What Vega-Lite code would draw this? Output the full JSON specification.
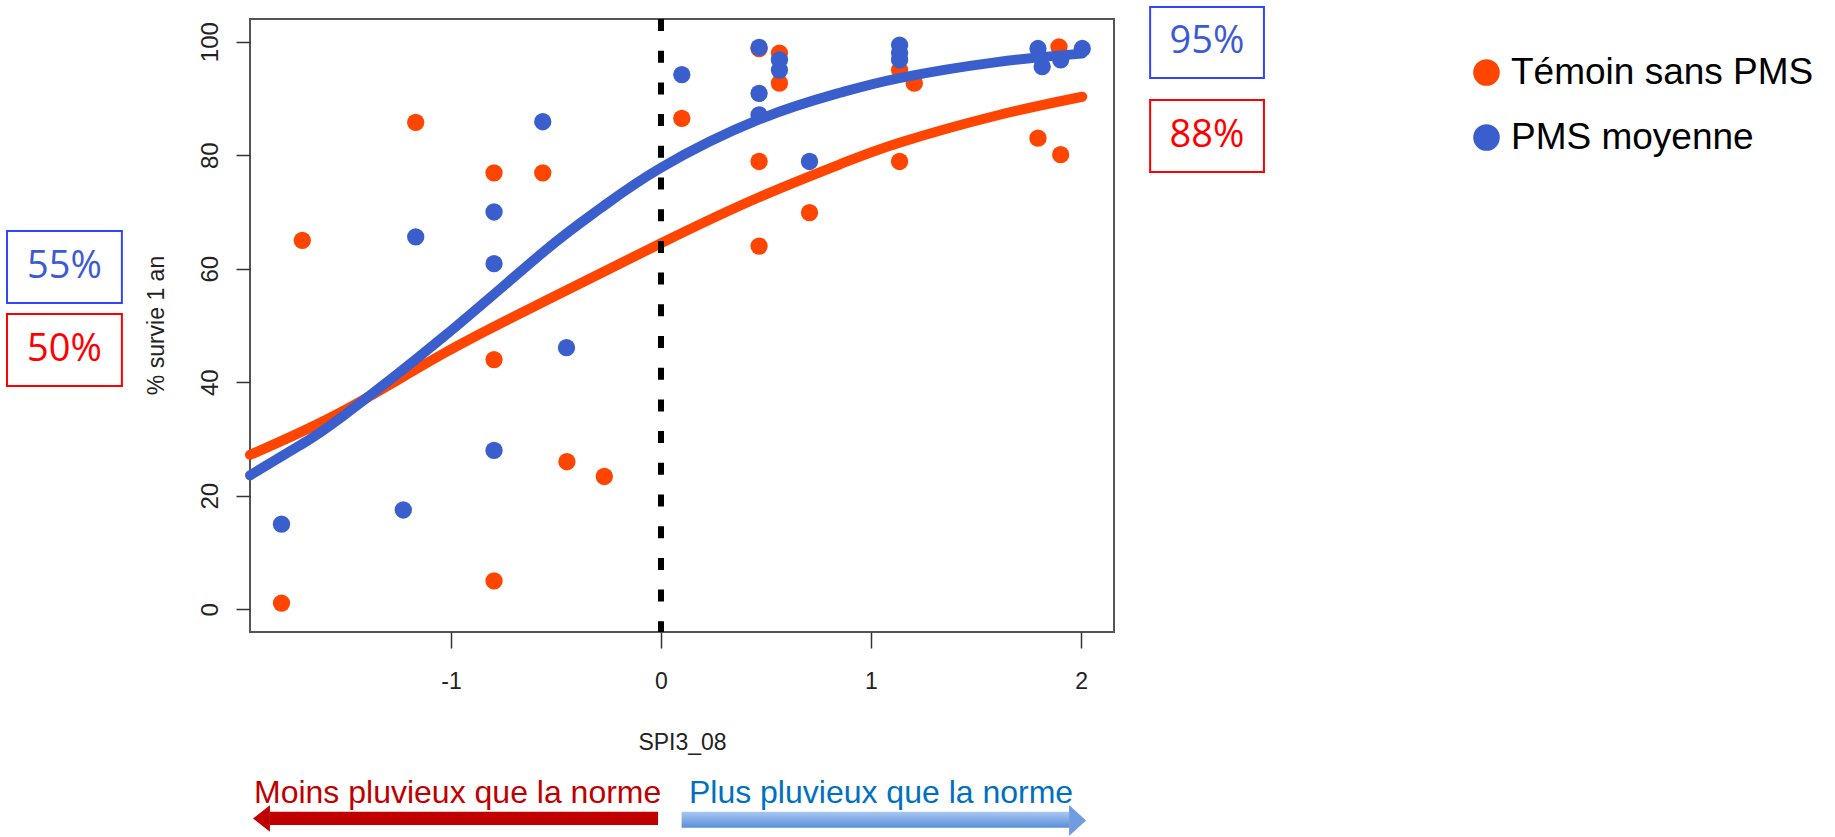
{
  "$schema": "https://vega.github.io/schema/vega-lite/v6.json",
  "width": 864,
  "height": 613,
  "autosize": {"type": "none"},
  "padding": {"left": 250, "top": 19, "right": 721, "bottom": 205},
  "background": "white",
  "config": {
    "view": {"stroke": "#555", "strokeWidth": 2},
    "font": "Liberation Sans"
  },
  "datasets": {
    "points": [
      {"spi": -1.807, "survie": 1.1, "groupe": "Témoin sans PMS"},
      {"spi": -1.708, "survie": 65.0, "groupe": "Témoin sans PMS"},
      {"spi": -1.168, "survie": 85.8, "groupe": "Témoin sans PMS"},
      {"spi": -0.795, "survie": 76.9, "groupe": "Témoin sans PMS"},
      {"spi": -0.795, "survie": 44.0, "groupe": "Témoin sans PMS"},
      {"spi": -0.795, "survie": 5.0, "groupe": "Témoin sans PMS"},
      {"spi": -0.563, "survie": 76.9, "groupe": "Témoin sans PMS"},
      {"spi": -0.448, "survie": 26.0, "groupe": "Témoin sans PMS"},
      {"spi": -0.27, "survie": 23.4, "groupe": "Témoin sans PMS"},
      {"spi": 0.099, "survie": 86.5, "groupe": "Témoin sans PMS"},
      {"spi": 0.467, "survie": 98.8, "groupe": "Témoin sans PMS"},
      {"spi": 0.467, "survie": 78.9, "groupe": "Témoin sans PMS"},
      {"spi": 0.467, "survie": 64.0, "groupe": "Témoin sans PMS"},
      {"spi": 0.564, "survie": 98.0, "groupe": "Témoin sans PMS"},
      {"spi": 0.564, "survie": 92.7, "groupe": "Témoin sans PMS"},
      {"spi": 0.707, "survie": 69.9, "groupe": "Témoin sans PMS"},
      {"spi": 1.136, "survie": 95.0, "groupe": "Témoin sans PMS"},
      {"spi": 1.206, "survie": 92.7, "groupe": "Témoin sans PMS"},
      {"spi": 1.136, "survie": 78.9, "groupe": "Témoin sans PMS"},
      {"spi": 1.795, "survie": 83.0, "groupe": "Témoin sans PMS"},
      {"spi": 1.903, "survie": 80.1, "groupe": "Témoin sans PMS"},
      {"spi": 1.895, "survie": 99.1, "groupe": "Témoin sans PMS"},
      {"spi": -1.807, "survie": 15.0, "groupe": "PMS moyenne"},
      {"spi": -1.227, "survie": 17.5, "groupe": "PMS moyenne"},
      {"spi": -1.168, "survie": 65.6, "groupe": "PMS moyenne"},
      {"spi": -0.795, "survie": 70.0, "groupe": "PMS moyenne"},
      {"spi": -0.795, "survie": 60.9, "groupe": "PMS moyenne"},
      {"spi": -0.795, "survie": 28.0, "groupe": "PMS moyenne"},
      {"spi": -0.563, "survie": 85.9, "groupe": "PMS moyenne"},
      {"spi": -0.45, "survie": 46.1, "groupe": "PMS moyenne"},
      {"spi": 0.099, "survie": 94.2, "groupe": "PMS moyenne"},
      {"spi": 0.467, "survie": 99.0, "groupe": "PMS moyenne"},
      {"spi": 0.467, "survie": 90.9, "groupe": "PMS moyenne"},
      {"spi": 0.467, "survie": 87.1, "groupe": "PMS moyenne"},
      {"spi": 0.564, "survie": 96.8, "groupe": "PMS moyenne"},
      {"spi": 0.564, "survie": 95.0, "groupe": "PMS moyenne"},
      {"spi": 0.707, "survie": 78.9, "groupe": "PMS moyenne"},
      {"spi": 1.136, "survie": 99.4, "groupe": "PMS moyenne"},
      {"spi": 1.136, "survie": 98.0, "groupe": "PMS moyenne"},
      {"spi": 1.136, "survie": 96.8, "groupe": "PMS moyenne"},
      {"spi": 1.795, "survie": 98.8, "groupe": "PMS moyenne"},
      {"spi": 1.815, "survie": 95.6, "groupe": "PMS moyenne"},
      {"spi": 1.903, "survie": 96.8, "groupe": "PMS moyenne"},
      {"spi": 2.006, "survie": 98.8, "groupe": "PMS moyenne"}
    ],
    "curves": [
      {"spi": -1.957, "survie": 27.2, "groupe": "Témoin sans PMS"},
      {"spi": -1.52, "survie": 34.8, "groupe": "Témoin sans PMS"},
      {"spi": -1.029, "survie": 45.2, "groupe": "Témoin sans PMS"},
      {"spi": -0.552, "survie": 54.3, "groupe": "Témoin sans PMS"},
      {"spi": 0.0, "survie": 64.5, "groupe": "Témoin sans PMS"},
      {"spi": 0.467, "survie": 72.6, "groupe": "Témoin sans PMS"},
      {"spi": 0.852, "survie": 78.4, "groupe": "Témoin sans PMS"},
      {"spi": 1.135, "survie": 82.2, "groupe": "Témoin sans PMS"},
      {"spi": 1.599, "survie": 87.0, "groupe": "Témoin sans PMS"},
      {"spi": 2.006, "survie": 90.3, "groupe": "Témoin sans PMS"},
      {"spi": -1.957, "survie": 23.6, "groupe": "PMS moyenne"},
      {"spi": -1.719, "survie": 28.9, "groupe": "PMS moyenne"},
      {"spi": -1.52, "survie": 33.9, "groupe": "PMS moyenne"},
      {"spi": -1.029, "survie": 48.2, "groupe": "PMS moyenne"},
      {"spi": -0.552, "survie": 63.2, "groupe": "PMS moyenne"},
      {"spi": -0.29, "survie": 70.6, "groupe": "PMS moyenne"},
      {"spi": 0.0, "survie": 77.8, "groupe": "PMS moyenne"},
      {"spi": 0.467, "survie": 86.3, "groupe": "PMS moyenne"},
      {"spi": 0.852, "survie": 91.0, "groupe": "PMS moyenne"},
      {"spi": 1.135, "survie": 93.6, "groupe": "PMS moyenne"},
      {"spi": 1.599, "survie": 96.4, "groupe": "PMS moyenne"},
      {"spi": 2.006, "survie": 97.9, "groupe": "PMS moyenne"}
    ]
  },
  "layer": [
    {
      "data": {"name": "points"},
      "mark": {"type": "circle", "size": 300, "opacity": 1},
      "encoding": {
        "x": {
          "field": "spi", "type": "quantitative",
          "scale": {"domain": [-1.957, 2.157], "nice": false, "zero": false},
          "axis": {
            "values": [-1, 0, 1, 2], "grid": false, "domain": false,
            "labelExpr": "'' + datum.value",
            "tickSize": 16, "tickWidth": 1.5, "tickColor": "#333",
            "labelFont": "Liberation Sans", "labelFontSize": 23, "labelColor": "#222",
            "labelBaseline": "alphabetic", "labelPadding": 40, "labelFlush": false, "labelOverlap": false,
            "title": "SPI3_08", "titleFont": "Liberation Sans", "titleFontSize": 23, "titleFontWeight": "normal",
            "titleColor": "#222", "titleBaseline": "alphabetic", "titleX": 432, "titleY": 117
          }
        },
        "y": {
          "field": "survie", "type": "quantitative",
          "scale": {"domain": [-4, 104], "nice": false, "zero": false},
          "axis": {
            "values": [0, 20, 40, 60, 80, 100], "grid": false, "domain": false,
            "labelExpr": "'' + datum.value",
            "tickSize": 14, "tickWidth": 1.5, "tickColor": "#333",
            "labelFont": "Liberation Sans", "labelFontSize": 24, "labelColor": "#222",
            "labelAngle": -90, "labelAlign": "center", "labelBaseline": "alphabetic",
            "labelPadding": 19, "labelFlush": false, "labelOverlap": false,
            "title": "% survie 1 an", "titleFont": "Liberation Sans", "titleFontSize": 23, "titleFontWeight": "normal",
            "titleColor": "#222", "titleAngle": 270, "titleBaseline": "alphabetic", "titleAlign": "center",
            "titleX": -87, "titleY": 306
          }
        },
        "color": {
          "field": "groupe", "type": "nominal",
          "scale": {"domain": ["Témoin sans PMS", "PMS moyenne"], "range": ["#FF4500", "#3A5FCD"]},
          "legend": {
            "orient": "none", "legendX": 1218, "legendY": 35, "title": null,
            "symbolType": "circle", "symbolSize": 707, "symbolStrokeWidth": 0, "symbolOpacity": 1,
            "labelFont": "Liberation Sans", "labelFontSize": 37, "labelColor": "#000", "labelLimit": 0,
            "labelOffset": 6, "rowPadding": 27, "padding": 0
          }
        }
      }
    },
    {
      "data": {"name": "curves"},
      "mark": {"type": "line", "strokeWidth": 10, "interpolate": "natural", "strokeCap": "round"},
      "encoding": {
        "x": {"field": "spi", "type": "quantitative"},
        "y": {"field": "survie", "type": "quantitative"},
        "color": {"field": "groupe", "type": "nominal", "legend": null}
      }
    },
    {
      "data": {"values": [{}]},
      "mark": {"type": "rule", "strokeDash": [12, 19.7], "strokeWidth": 6, "color": "#000"},
      "encoding": {"x": {"datum": 0}}
    },
    {
      "data": {"values": [{"texte": "55%"}]},
      "layer": [
        {"mark": {"type": "rect", "filled": false, "color": "#3344FF", "strokeWidth": 2},
         "encoding": {"x": {"datum": -3.114}, "x2": {"datum": -2.567}, "y": {"datum": 66.65}, "y2": {"datum": 53.96}}},
        {"mark": {"type": "text", "font": "Open Sans", "fontSize": 38, "color": "#3B5BD6", "align": "center", "baseline": "middle"},
         "encoding": {"text": {"field": "texte"}, "x": {"datum": -2.84}, "y": {"datum": 60.31}}}
      ]
    },
    {
      "data": {"values": [{"texte": "50%"}]},
      "layer": [
        {"mark": {"type": "rect", "filled": false, "color": "#FF0000", "strokeWidth": 2},
         "encoding": {"x": {"datum": -3.114}, "x2": {"datum": -2.567}, "y": {"datum": 52.03}, "y2": {"datum": 39.34}}},
        {"mark": {"type": "text", "font": "Open Sans", "fontSize": 38, "color": "#FF0000", "align": "center", "baseline": "middle"},
         "encoding": {"text": {"field": "texte"}, "x": {"datum": -2.84}, "y": {"datum": 45.68}}}
      ]
    },
    {
      "data": {"values": [{"texte": "95%"}]},
      "layer": [
        {"mark": {"type": "rect", "filled": false, "color": "#3344FF", "strokeWidth": 2},
         "encoding": {"x": {"datum": 2.329}, "x2": {"datum": 2.871}, "y": {"datum": 106.11}, "y2": {"datum": 93.61}}},
        {"mark": {"type": "text", "font": "Open Sans", "fontSize": 38, "color": "#3B5BD6", "align": "center", "baseline": "middle"},
         "encoding": {"text": {"field": "texte"}, "x": {"datum": 2.6}, "y": {"datum": 99.86}}}
      ]
    },
    {
      "data": {"values": [{"texte": "88%"}]},
      "layer": [
        {"mark": {"type": "rect", "filled": false, "color": "#FF0000", "strokeWidth": 2},
         "encoding": {"x": {"datum": 2.329}, "x2": {"datum": 2.871}, "y": {"datum": 89.73}, "y2": {"datum": 77.04}}},
        {"mark": {"type": "text", "font": "Open Sans", "fontSize": 38, "color": "#FF0000", "align": "center", "baseline": "middle"},
         "encoding": {"text": {"field": "texte"}, "x": {"datum": 2.6}, "y": {"datum": 83.39}}}
      ]
    },
    {
      "data": {"values": [{"texte": "Moins pluvieux que la norme"}]},
      "layer": [
        {"mark": {"type": "rect", "color": "#C00000"},
         "encoding": {"x": {"datum": -1.862}, "x2": {"datum": -0.014}, "y": {"datum": -35.66}, "y2": {"datum": -38.0}}},
        {"mark": {"type": "point", "shape": "M -1.28 0 L 0 -1 L 0 1 Z", "size": 700, "filled": true, "opacity": 1, "color": "#C00000", "strokeWidth": 0},
         "encoding": {"x": {"datum": -1.862}, "y": {"datum": -36.86}}},
        {"mark": {"type": "text", "font": "Liberation Sans", "fontSize": 32, "color": "#C00000", "align": "left", "baseline": "alphabetic"},
         "encoding": {"text": {"field": "texte"}, "x": {"datum": -1.938}, "y": {"datum": -34.13}}}
      ]
    },
    {
      "data": {"values": [{"texte": "Plus pluvieux que la norme"}]},
      "layer": [
        {"mark": {"type": "rect", "color": {"gradient": "linear", "x1": 0, "y1": 0, "x2": 0, "y2": 1, "stops": [{"offset": 0, "color": "#A8C8F4"}, {"offset": 1, "color": "#5B8ED6"}]}},
         "encoding": {"x": {"datum": 0.098}, "x2": {"datum": 1.943}, "y": {"datum": -35.66}, "y2": {"datum": -38.47}}},
        {"mark": {"type": "point", "shape": "M 1.1 0 L 0 -1 L 0 1 Z", "size": 961, "filled": true, "opacity": 1, "color": "#6F9DDD", "strokeWidth": 0},
         "encoding": {"x": {"datum": 1.943}, "y": {"datum": -37.2}}},
        {"mark": {"type": "text", "font": "Liberation Sans", "fontSize": 32, "color": "#0070C0", "align": "left", "baseline": "alphabetic"},
         "encoding": {"text": {"field": "texte"}, "x": {"datum": 0.133}, "y": {"datum": -34.13}}}
      ]
    }
  ]
}
